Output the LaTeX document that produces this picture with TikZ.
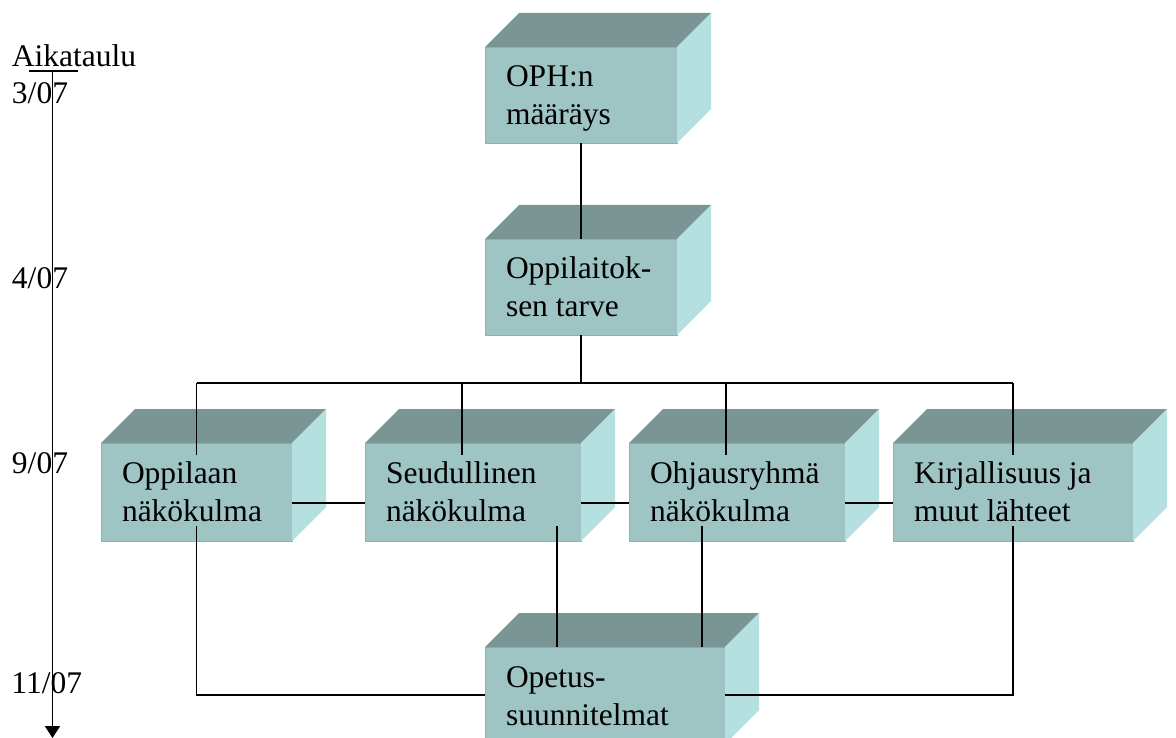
\documentclass[tikz,border=0pt]{standalone}
\usepackage{fontspec}
\setmainfont{Liberation Serif}
\usetikzlibrary{calc,arrows.meta}
\definecolor{cfront}{RGB}{158,196,196}
\definecolor{ctop}{RGB}{121,150,148}
\definecolor{cside}{RGB}{180,224,224}
\definecolor{cedge}{RGB}{140,178,178}
\tikzset{
  front/.style={fill=cfront, draw=cedge, line width=0.8pt, inner sep=0pt, outer sep=0pt},
  boxtext/.style={inner sep=0pt, outer sep=0pt, font=\fontsize{31.5}{38}\selectfont},
  lbl/.style={inner sep=0pt, outer sep=0pt, font=\fontsize{31.5}{38}\selectfont, anchor=base west},
  conn/.style={line width=1.8pt, black},
}
\newcommand\twolines[2]{\vtop{\hbox{#1}\hbox{#2}}}
% name, x, y, w, h, line1, line2
\newcommand\cubebox[7]{%
  \node[front, minimum width=#4pt, minimum height=#5pt, anchor=north west] (#1) at (#2,#3) {};
  \fill[ctop] (#1.north west) -- ++(34,-34) -- ++(#4,0) -- (#1.north east) -- cycle;
  \fill[cside] (#1.north east) -- ++(34,-34) -- ++(0,#5) -- (#1.south east) -- cycle;
  \node[boxtext, anchor=base west] (#1-t) at ($(#1.north west)+(21,40)$) {\twolines{#6}{#7}};
}
\begin{document}
\begin{tikzpicture}[x=1pt,y=-1pt]
\clip (0,0) rectangle (1176,738);
\fill[white] (0,0) rectangle (1176,738);

% timeline
\node[lbl] (title) at (12,67) {Aikataulu};
\node[lbl] (t1) at (12,104) {3/07};
\node[lbl] (t2) at (12,288) {4/07};
\node[lbl] (t3) at (12,473) {9/07};
\node[lbl] (t4) at (11.5,693) {11/07};
\coordinate (tbarL) at (29,71);
\coordinate (tbarR) at (78,71);
\coordinate (ttop) at (52.5,71);
\coordinate (tend) at (52.5,738);
\draw[conn] (tbarL) -- (tbarR);
\draw[conn, -{Triangle[width=15pt,length=12pt]}] (ttop) -- (tend);

% boxes
\cubebox{oph}{485}{47}{192}{96}{OPH:n}{määräys}
\cubebox{oppl}{485}{239}{192}{96}{Oppilaitok-}{sen tarve}
\cubebox{a}{101}{443}{191}{98}{Oppilaan}{näkökulma}
\cubebox{b}{365}{443}{216}{98}{Seudullinen}{näkökulma}
\cubebox{c}{629}{443}{216}{98}{Ohjausryhmä}{näkökulma}
\cubebox{d}{893}{443}{240}{98}{Kirjallisuus ja}{muut lähteet}
\cubebox{e}{485}{647}{240}{97}{Opetus-}{suunnitelmat}

% connectors
\draw[conn] (oph.south) -- (oppl.north);
\coordinate (bus) at ($(oppl.south)+(0,48)$);
\draw[conn] (oppl.south) -- (bus);
\draw[conn] (bus -| a.north) -- (bus -| d.north);
\draw[conn] (bus -| a.north) -- ($(a.north)+(0,12)$);
\draw[conn] ($(b.north)+(-11,-60)$) -- ($(b.north)+(-11,12)$);
\draw[conn] ($(c.north)+(-11,-60)$) -- ($(c.north)+(-11,12)$);
\draw[conn] (bus -| d.north) -- ($(d.north)+(0,12)$);

\draw[conn] ($(a.north east)+(0,60)$) -- ($(b.north west)+(0,60)$);
\draw[conn] ($(b.north east)+(0,60)$) -- ($(c.north west)+(0,60)$);
\draw[conn] ($(c.north east)+(0,60)$) -- ($(d.north west)+(0,60)$);

\draw[conn] ($(a.south)+(0,-15)$) |- ($(e.north west)+(0,48)$);
\draw[conn] ($(d.south)+(0,-15)$) |- ($(e.north east)+(0,48)$);
\draw[conn] ($(b.south)+(84,-15)$) coordinate (bs) -- (bs |- e.north);
\draw[conn] ($(c.south)+(-35,-15)$) coordinate (cs) -- (cs |- e.north);
\end{tikzpicture}
\end{document}
